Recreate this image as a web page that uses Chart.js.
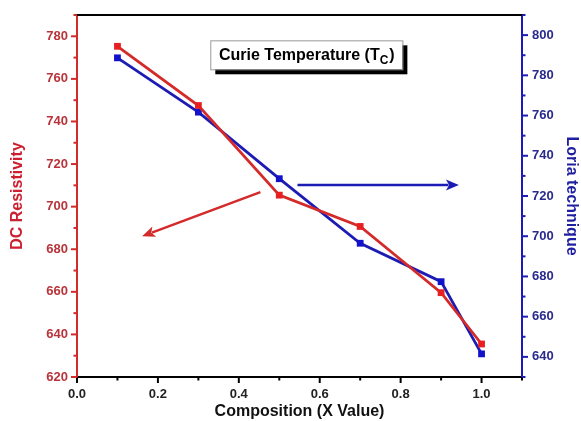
<!DOCTYPE html>
<html>
<head>
<meta charset="utf-8">
<script src="https://cdn.jsdelivr.net/npm/chart.js@4/dist/chart.umd.min.js"></script>
<style>
  html, body { margin: 0; padding: 0; background: #fff; }
  #wrap { width: 581px; height: 421px; }
</style>
</head>
<body>
<div id="wrap"><canvas id="chart"></canvas></div>
<script>
// ===============================
// DATA
// ===============================
const composition   = [0.1, 0.3, 0.5, 0.7, 0.9, 1.0];
const dcResistivity = [775.3, 747.5, 705.4, 690.7, 659.6, 635.5];
const loriaTech     = [788.7, 761.7, 728.6, 696.5, 677.4, 641.5];

const titleText = "Curie Temperature (T";
const titleSub  = "C";

// annotation anchors (data units)
const boxAnchor  = { x0: 0.3295, x1: 0.8043, y0: 778.1, y1: 764.5 };
const redArrow   = { x0: 0.4533, y0: 706.8, x1: 0.161, y1: 686.1 };
const blueArrow  = { x0: 0.545, y0: 725.5, x1: 0.944, y1: 725.5 };

const RED = "#d42a2a";
const BLUE = "#1c1cb4";
const FONT = "'Liberation Sans', Arial, sans-serif";

// ===============================
// HELPERS
// ===============================
function arrow(ctx, x0, y0, x1, y1, color) {
  const ang = Math.atan2(y1 - y0, x1 - x0);
  const hl = 13, hw = 5.5;
  ctx.save();
  ctx.strokeStyle = color;
  ctx.fillStyle = color;
  ctx.lineWidth = 2.5;
  ctx.beginPath();
  ctx.moveTo(x0, y0);
  ctx.lineTo(x1 - Math.cos(ang) * hl * 0.8, y1 - Math.sin(ang) * hl * 0.8);
  ctx.stroke();
  ctx.beginPath();
  ctx.moveTo(x1, y1);
  ctx.lineTo(x1 - Math.cos(ang) * hl - Math.sin(ang) * hw, y1 - Math.sin(ang) * hl + Math.cos(ang) * hw);
  ctx.lineTo(x1 - Math.cos(ang) * hl * 0.75, y1 - Math.sin(ang) * hl * 0.75);
  ctx.lineTo(x1 - Math.cos(ang) * hl + Math.sin(ang) * hw, y1 - Math.sin(ang) * hl - Math.cos(ang) * hw);
  ctx.closePath();
  ctx.fill();
  ctx.restore();
}

// ticks (major long, minor short) + top frame + annotations
const decorPlugin = {
  id: "decor",
  afterDraw(chart) {
    const ctx = chart.ctx;
    const area = chart.chartArea;
    const sx = chart.scales.x, sy = chart.scales.y, sy1 = chart.scales.y1;

    ctx.save();
    ctx.lineWidth = 2;
    // top frame
    ctx.strokeStyle = "#000";
    ctx.beginPath();
    ctx.moveTo(area.left, area.top);
    ctx.lineTo(area.right, area.top);
    ctx.stroke();

    // x ticks
    sx.ticks.forEach(t => {
      const p = sx.getPixelForValue(t.value);
      const len = t.label ? 6 : 3.5;
      ctx.beginPath();
      ctx.moveTo(p, area.bottom);
      ctx.lineTo(p, area.bottom + len);
      ctx.stroke();
    });
    // left ticks
    ctx.strokeStyle = RED;
    sy.ticks.forEach(t => {
      const p = sy.getPixelForValue(t.value);
      const len = t.label ? 6 : 3.5;
      ctx.beginPath();
      ctx.moveTo(area.left, p);
      ctx.lineTo(area.left - len, p);
      ctx.stroke();
    });
    // right ticks
    ctx.strokeStyle = BLUE;
    sy1.ticks.forEach(t => {
      const p = sy1.getPixelForValue(t.value);
      const len = t.label ? 6 : 3.5;
      ctx.beginPath();
      ctx.moveTo(area.right, p);
      ctx.lineTo(area.right + len, p);
      ctx.stroke();
    });
    ctx.restore();

    // title box with shadow
    const bx0 = sx.getPixelForValue(boxAnchor.x0);
    const bx1 = sx.getPixelForValue(boxAnchor.x1);
    const by0 = sy.getPixelForValue(boxAnchor.y0);
    const by1 = sy.getPixelForValue(boxAnchor.y1);
    ctx.save();
    ctx.fillStyle = "#000";
    ctx.fillRect(bx0 + 5, by0 + 5, bx1 - bx0, by1 - by0);
    ctx.fillStyle = "#fff";
    ctx.fillRect(bx0, by0, bx1 - bx0, by1 - by0);
    ctx.strokeStyle = "#999";
    ctx.lineWidth = 1;
    ctx.strokeRect(bx0 + 0.5, by0 + 0.5, bx1 - bx0, by1 - by0);
    ctx.fillStyle = "#000";
    ctx.textBaseline = "alphabetic";
    ctx.font = "bold 16px " + FONT;
    const w1 = ctx.measureText(titleText).width;
    ctx.font = "bold 12px " + FONT;
    const w2 = ctx.measureText(titleSub).width;
    ctx.font = "bold 16px " + FONT;
    const w3 = ctx.measureText(")").width;
    const tx = (bx0 + bx1) / 2 - (w1 + w2 + w3) / 2;
    const ty = (by0 + by1) / 2 + 5;
    ctx.fillText(titleText, tx, ty);
    ctx.font = "bold 12px " + FONT;
    ctx.fillText(titleSub, tx + w1, ty + 4);
    ctx.font = "bold 16px " + FONT;
    ctx.fillText(")", tx + w1 + w2 + 1, ty);
    ctx.restore();

    // arrows
    arrow(ctx, sx.getPixelForValue(redArrow.x0), sy.getPixelForValue(redArrow.y0),
      sx.getPixelForValue(redArrow.x1), sy.getPixelForValue(redArrow.y1), RED);
    arrow(ctx, sx.getPixelForValue(blueArrow.x0), sy1.getPixelForValue(blueArrow.y0),
      sx.getPixelForValue(blueArrow.x1), sy1.getPixelForValue(blueArrow.y1), BLUE);
  }
};

// ===============================
// CHART
// ===============================
Chart.defaults.font.family = FONT;

new Chart(document.getElementById("chart"), {
  type: "line",
  data: {
    datasets: [
      {
        label: "DC Resistivity",
        data: composition.map((x, i) => ({ x, y: dcResistivity[i] })),
        yAxisID: "y",
        borderColor: RED,
        backgroundColor: "#e62020",
        borderWidth: 2.8,
        pointStyle: "rect",
        pointRadius: 4.8,
        pointBorderWidth: 0,
        tension: 0,
      },
      {
        label: "Loria technique",
        data: composition.map((x, i) => ({ x, y: loriaTech[i] })),
        yAxisID: "y1",
        borderColor: BLUE,
        backgroundColor: "#1212c8",
        borderWidth: 2.8,
        pointStyle: "rect",
        pointRadius: 4.8,
        pointBorderWidth: 0,
        tension: 0,
      },
    ],
  },
  options: {
    responsive: true,
    maintainAspectRatio: false,
    animation: false,
    layout: { padding: { top: 15, left: 0, right: 0, bottom: 0 } },
    plugins: { legend: { display: false }, tooltip: { enabled: false } },
    scales: {
      x: {
        type: "linear",
        min: 0,
        max: 1.1,
        grid: { display: false, drawTicks: true, tickLength: 6 },
        border: { display: true, color: "#000", width: 2 },
        ticks: {
          stepSize: 0.1,
          padding: 4,
          color: "#222",
          font: { size: 13, weight: "bold" },
          callback: v => {
            const k = Math.round(v * 10);
            return (k % 2 === 0 && k <= 10) ? (k / 10).toFixed(1) : "";
          },
        },
        title: {
          display: true,
          text: "Composition (X Value)",
          color: "#111",
          font: { size: 16, weight: "bold" },
          padding: { top: 3, bottom: 0 },
        },
        afterFit: s => { s.height = 44; },
      },
      y: {
        position: "left",
        min: 620,
        max: 790,
        grid: { display: false, drawTicks: true, tickLength: 6 },
        border: { display: true, color: RED, width: 2 },
        ticks: {
          stepSize: 10,
          padding: 3,
          color: "#b8343a",
          font: { size: 13, weight: "bold" },
          callback: v => (Math.round(v) % 20 === 0 ? String(Math.round(v)) : ""),
        },
        title: {
          display: true,
          text: "DC Resistivity",
          color: "#cc2030",
          font: { size: 16, weight: "bold" },
          padding: { top: 8, bottom: 0 },
        },
        afterFit: s => { s.width = 77; },
      },
      y1: {
        position: "right",
        min: 630,
        max: 810,
        grid: { display: false, drawTicks: true, tickLength: 6 },
        border: { display: true, color: BLUE, width: 2 },
        ticks: {
          stepSize: 10,
          padding: 4,
          color: "#2a2a8e",
          font: { size: 13, weight: "bold" },
          callback: v => (Math.round(v) % 20 === 0 ? String(Math.round(v)) : ""),
        },
        title: {
          display: true,
          text: "Loria technique",
          color: "#1e1ea0",
          font: { size: 16, weight: "bold" },
          padding: { top: 0, bottom: 0 },
        },
        afterFit: s => { s.width = 59; },
      },
    },
  },
  plugins: [decorPlugin],
});
</script>
</body>
</html>
